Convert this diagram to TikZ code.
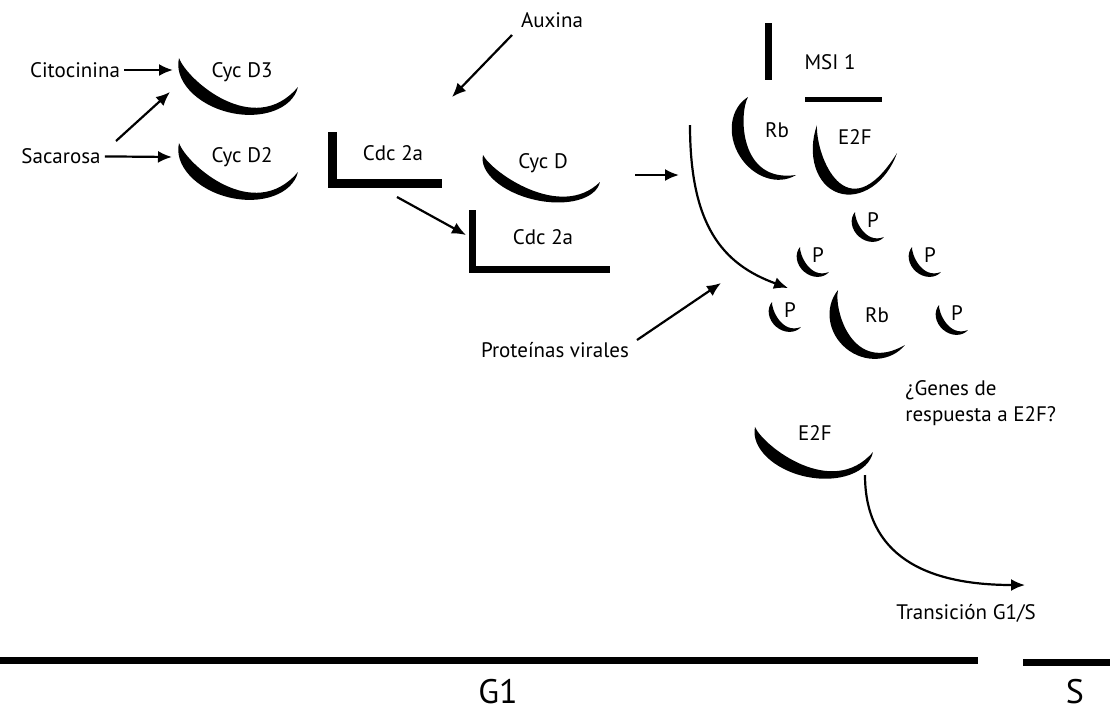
\documentclass[tikz,border=0pt]{standalone}
\usepackage{fontspec}
\setmainfont{PT Sans}
\usepackage{tikz}
\usetikzlibrary{arrows.meta,calc}
\tikzset{
  etiq/.style={font=\fontsize{10.5}{13}\selectfont, inner sep=2pt, align=left},
  fase/.style={font=\fontsize{17}{19}\selectfont, inner sep=0pt},
  flecha/.style={-{Latex[length=7pt,width=6pt]}, line width=1.1pt},
  escuadra/.style={line width=#1, line join=miter},
  eje/.style={line width=3.5pt},
}
% media luna: centro, giro, semieje, fondo exterior, grosor central
\newcommand{\lunula}[5]{%
  \pgfmathsetmacro\lunfondo{(#4-#5)/0.6375}%
  \fill[shift={(#1)}, rotate=#2] (-#3,0)
    arc[start angle=180, end angle=360, x radius=#3, y radius=#4]
    .. controls (0.5*#3,-1.3*\lunfondo) and (-0.8*#3,-0.4*\lunfondo) .. cycle;}

\begin{document}
\begin{tikzpicture}[x=0.5pt,y=0.5pt]
  \useasboundingbox (0,0) rectangle (1110,-714);

  % ciclinas y Cdc 2a
  \node[etiq] (cito) at (75,-70) {Citocinina};
  \node[etiq] (saca) at (61,-156) {Sacarosa};
  \node[etiq] (cycd3) at (242,-72) {Cyc D3};
  \node[etiq] (cycd2) at (242,-157) {Cyc D2};
  \lunula{238.5,-72.5}{-13.7}{61.2}{41}{11}
  \lunula{238.5,-157.5}{-13.7}{61.2}{41}{11}

  \node[etiq] (cdc1) at (393,-153) {Cdc 2a};
  \draw[escuadra=4.5pt] (332.5,-132) |- (442,-183.5);
  \node[etiq] (cycd) at (543,-163) {Cyc D};
  \lunula{541.5,-168.5}{-13}{60}{32}{9}
  \node[etiq] (cdc2) at (543,-237) {Cdc 2a};
  \draw[escuadra=3.6pt] (472.5,-210) |- (610,-269.5);
  \node[etiq] (aux) at (552,-20) {Auxina};

  % Rb / E2F y MSI 1
  \node[etiq] (msi) at (830,-62) {MSI 1};
  \draw[line width=3.5pt] (768.5,-23) -- (768.5,-80);
  \draw[line width=2.8pt] (805,-99.5) -- (882,-99.5);
  \node[etiq] (rb1) at (777,-130) {Rb};
  \lunula{772,-136}{-58.4}{45.8}{38}{12}
  \node[etiq] (e2f1) at (855,-137) {E2F};
  \lunula{857,-139}{-19.3}{42.4}{57}{11}

  % Rb fosforilada
  \node[etiq] (rb2) at (877,-315) {Rb};
  \lunula{871.5,-317.5}{-39.4}{43.3}{40}{12}
  \foreach \px/\py [count=\i] in {873/220, 818/255, 930/255, 790/310, 957/313} {
    \node[etiq] (fos\i) at (\px,-\py) {P};
    \lunula{\px-3.5,-\py-4.5}{-40.8}{19.1}{16}{7}
  }
  \node[etiq] (virus) at (555,-350) {Proteínas virales};

  % E2F libre
  \node[etiq, anchor=west] (genes) at (901,-403) {¿Genes de\\respuesta a E2F?};
  \node[etiq] (e2f2) at (815,-433) {E2F};
  \lunula{814,-439.5}{-12}{60.3}{38}{11}
  \node[etiq] (trans) at (966,-613) {Transición G1/S};

  % fases
  \draw[eje] (0,-660) -- (978,-660);
  \draw[eje] (1023,-662) -- (1110,-662);
  \node[fase] (g1) at (498,-692) {G1};
  \node[fase] (fs) at (1075,-692) {S};

  % flechas
  \coordinate (d3in) at (173,-70);
  \coordinate (d2in) at (172,-157);
  \coordinate (sacad) at (116,-141);
  \coordinate (d3low) at (170,-92);
  \coordinate (auxa) at (512,-35);
  \coordinate (auxb) at (452,-97);
  \coordinate (cdca) at (397,-197);
  \coordinate (cdcb) at (466,-235);
  \coordinate (cyca) at (635,-175);
  \coordinate (cycb) at (679,-175);
  \coordinate (rbcurva) at (690,-125);
  \coordinate (rbfin) at (788,-288);
  \coordinate (vira) at (637,-340);
  \coordinate (virb) at (721,-283);
  \coordinate (e2fa) at (865,-475);
  \coordinate (e2fb) at (1025,-585);

  \draw[flecha] (cito) -- (d3in);
  \draw[flecha] (saca) -- (d2in);
  \draw[flecha] (sacad) -- (d3low);
  \draw[flecha] (auxa) -- (auxb);
  \draw[flecha] (cdca) -- (cdcb);
  \draw[flecha] (cyca) -- (cycb);
  \draw[flecha] (rbcurva) .. controls (690,-225) and (722,-264) .. (rbfin);
  \draw[flecha] (vira) -- (virb);
  \draw[flecha] (e2fa) .. controls (865,-555) and (925,-585) .. (e2fb);
\end{tikzpicture}
\end{document}
